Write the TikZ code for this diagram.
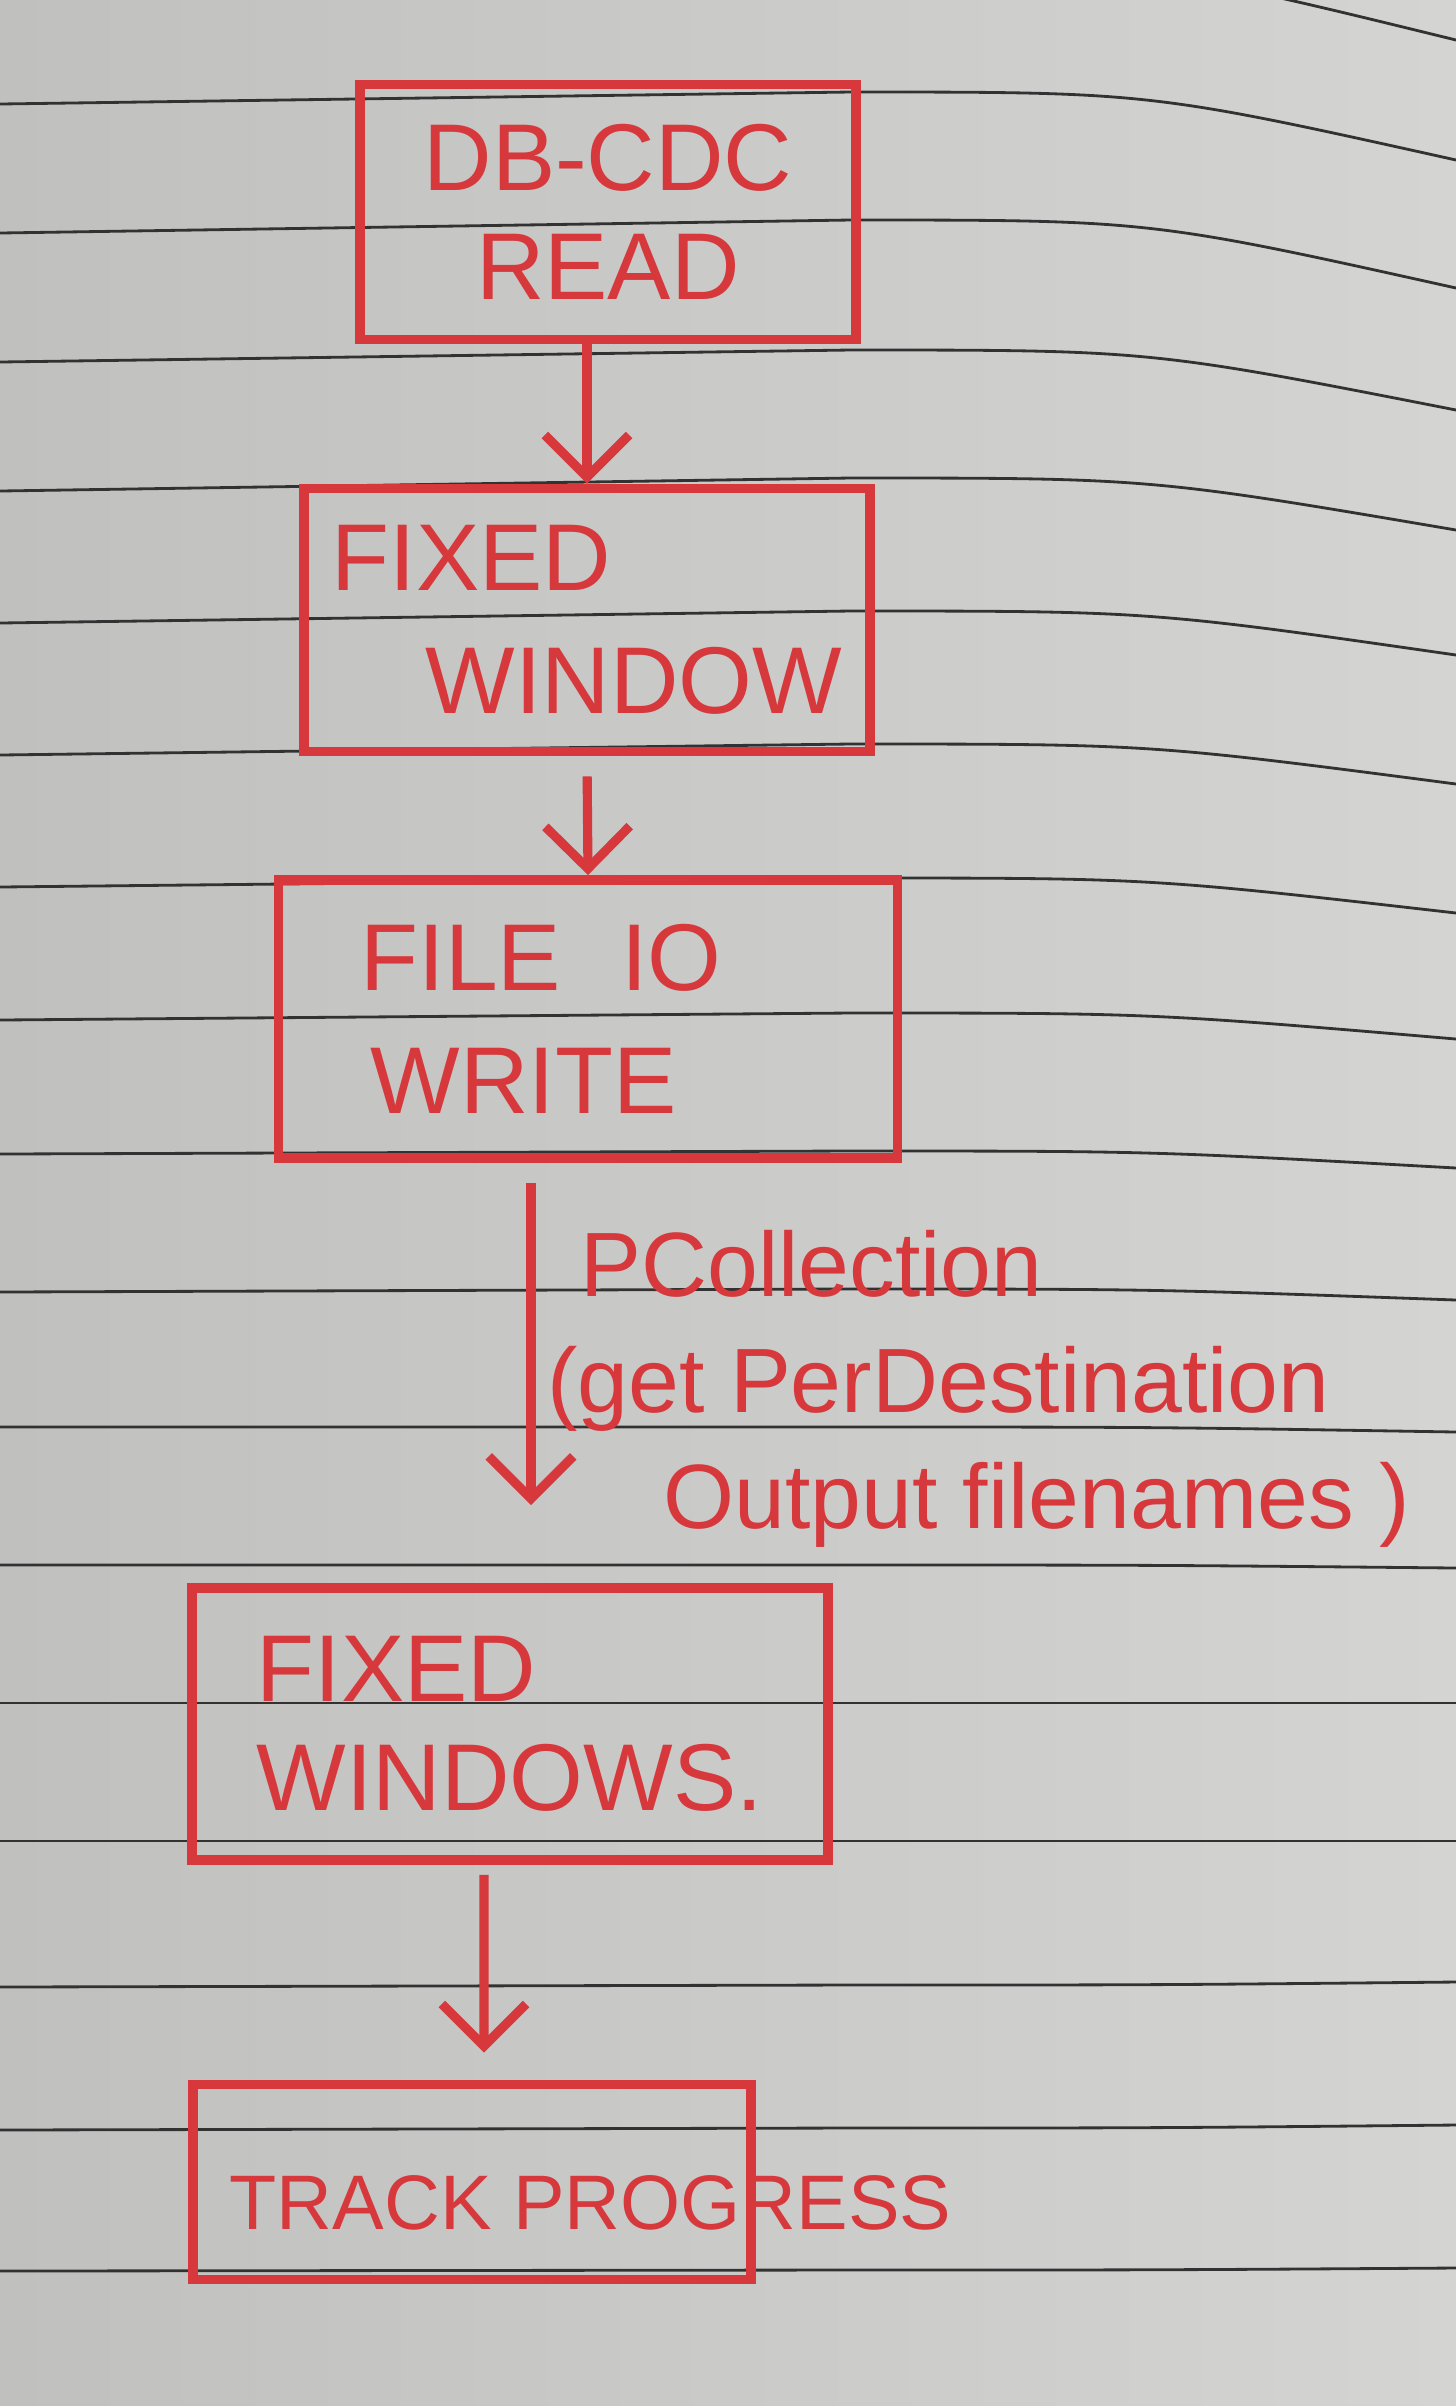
\documentclass[tikz,border=0pt]{standalone}
\usepackage{xcolor}
\usepackage{fontspec}
\setmainfont{Liberation Sans}
\usetikzlibrary{arrows.meta, positioning, calc}

\definecolor{ink}{RGB}{214,56,60}
\definecolor{paperL}{RGB}{192,192,191}
\definecolor{paperR}{RGB}{212,212,211}
\definecolor{ruling}{RGB}{50,50,50}

\begin{document}
\begin{tikzpicture}[
    box/.style={draw=ink, line width=2.8pt, text=ink, align=center, inner sep=0pt, font=\fontsize{27}{31}\selectfont},
    boxtext/.style={text=ink, inner sep=0pt, font=\fontsize{22}{26}\selectfont},
    arr/.style={-{Straight Barb[length=12pt, width=24pt]}, draw=ink, line width=2.6pt},
    lbl/.style={text=ink, align=left, font=\fontsize{26}{33}\selectfont},
    rule/.style={draw=ruling, line width=0.8pt},
]

% Ruled paper
\useasboundingbox (0,0) rectangle (14.56,-24.06);
\shade[left color=paperL, right color=paperR] (0,0) rectangle (14.56,-24.06);
\begin{scope}
\clip (0,0) rectangle (14.56,-24.06);
\foreach \l/\m/\r in {0.40/0.35/-0.40, -1.04/-0.92/-1.60, -2.33/-2.20/-2.88, -3.62/-3.50/-4.10,
    -4.91/-4.78/-5.30, -6.23/-6.11/-6.55, -7.55/-7.44/-7.84, -8.87/-8.78/-9.13,
    -10.20/-10.13/-10.39, -11.54/-11.51/-11.68, -12.92/-12.89/-13.00, -14.27/-14.27/-14.32,
    -15.65/-15.65/-15.68, -17.03/-17.03/-17.03, -18.41/-18.41/-18.41, -19.87/-19.85/-19.82,
    -21.30/-21.28/-21.25, -22.71/-22.70/-22.68}
    \draw[rule] (0,\l) -- (8.5,\m) .. controls (11.5,\m) .. (14.56,\r);
\end{scope}

% Steps
\node[box, minimum width=4.96cm, minimum height=2.55cm] (dbread) at (6.08,-2.12) {DB-CDC\\READ};
\node[box, minimum width=5.66cm, minimum height=2.63cm, align=left] (fixwin) at (5.87,-6.20) {FIXED\\[4pt]\hspace*{0.94cm}WINDOW};
\node[box, minimum width=6.19cm, minimum height=2.78cm, align=left] (fileio) at (5.88,-10.19) {FILE\hspace{0.6cm}IO\hspace*{0.94cm}\\[4pt]\hspace*{0.1cm}WRITE};
\node[box, minimum width=6.36cm, minimum height=2.72cm, align=left] (fixwins) at (5.10,-17.24) {FIXED\\WINDOWS.};
\node[box, minimum width=5.58cm, minimum height=1.95cm] (track) at (4.72,-21.82) {};
\node[boxtext, anchor=base west] (trackname) at (2.29,-22.29) {TRACK PROGRESS};

% Arrows
\coordinate (pcend) at (5.31,-15.05);
\draw[arr] (dbread.south -| fixwin.north) -- (fixwin.north);
\draw[arr, shorten <=0.2cm] (fixwin.south) -- (fileio.north);
\draw[arr, shorten <=0.2cm] (fileio.south -| pcend) -- node[lbl, right, pos=0.66] (pcoll) {\hspace*{0.33cm}PCollection\\(get PerDestination\\\hspace*{1.16cm}Output filenames )} (pcend);
\draw[arr, shorten <=0.1cm, shorten >=0.27cm] ([xshift=-0.26cm]fixwins.south) -- ([xshift=0.12cm]track.north);

\end{tikzpicture}
\end{document}
